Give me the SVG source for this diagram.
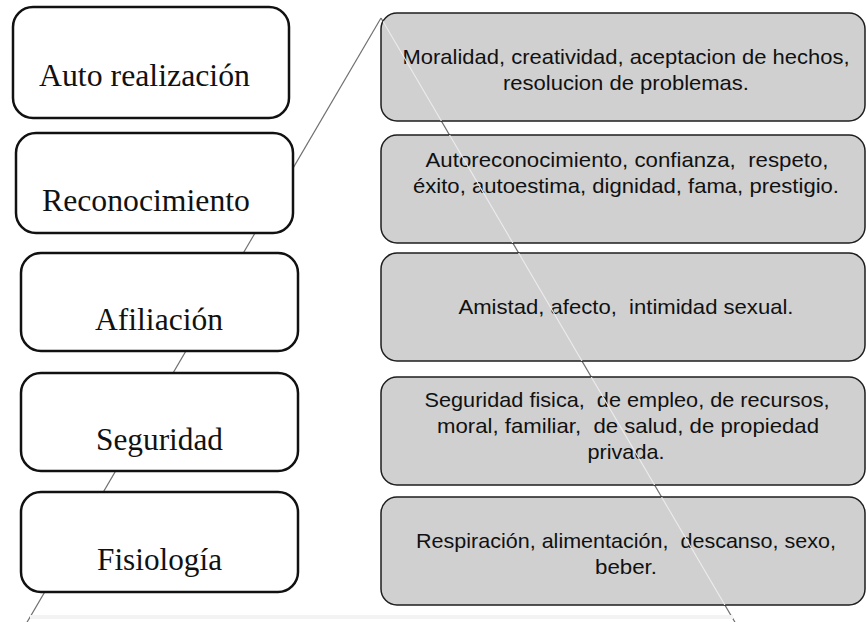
<svg xmlns="http://www.w3.org/2000/svg" width="866" height="622" viewBox="0 0 866 622">
<style>
.lbox{fill:#ffffff;stroke:#111111;stroke-width:2.5}
.rbox{fill:#d0d0d0;stroke:#1e1e1e;stroke-width:1.5}
.ltxt{font-family:"Liberation Serif","Times New Roman",serif;font-size:31px;fill:#111111}
.rtxt{font-family:"Liberation Sans",Arial,sans-serif;font-size:21px;fill:#111111;text-anchor:middle}
.pyr{stroke:#707070;stroke-width:1.2;fill:none}
.pyrlight{stroke:#ececec;stroke-width:1.1;fill:none}
</style>
<defs>
<clipPath id="grayclip">
<rect x="381" y="13" width="484" height="108" rx="16"/>
<rect x="381" y="135" width="484" height="108" rx="16"/>
<rect x="381" y="253" width="484" height="108" rx="16"/>
<rect x="381" y="377" width="484" height="108" rx="16"/>
<rect x="381" y="497" width="484" height="108" rx="16"/>
</clipPath>
</defs>
<rect x="0" y="0" width="866" height="622" fill="#ffffff"/>
<g id="connectors">
<line class="pyr" x1="381" y1="18" x2="26" y2="624"/>
<line class="pyr" x1="381" y1="18" x2="736" y2="624"/>
<line x1="30" y1="617" x2="733" y2="617" stroke="#f3f3f3" stroke-width="4"/>
</g>
<g id="n-autorealizacion"><rect class="lbox" x="13" y="7" width="276" height="111" rx="20"/><text class="ltxt" x="39" y="86" textLength="211" lengthAdjust="spacingAndGlyphs">Auto realización</text></g>
<g id="n-reconocimiento"><rect class="lbox" x="16" y="133" width="277" height="100" rx="20"/><text class="ltxt" x="42" y="211" textLength="208" lengthAdjust="spacingAndGlyphs">Reconocimiento</text></g>
<g id="n-afiliacion"><rect class="lbox" x="21" y="253" width="277" height="98" rx="20"/><text class="ltxt" x="95" y="330" textLength="128" lengthAdjust="spacingAndGlyphs">Afiliación</text></g>
<g id="n-seguridad"><rect class="lbox" x="21" y="373" width="277" height="98" rx="20"/><text class="ltxt" x="96" y="450" textLength="127" lengthAdjust="spacingAndGlyphs">Seguridad</text></g>
<g id="n-fisiologia"><rect class="lbox" x="21" y="492" width="277" height="100" rx="20"/><text class="ltxt" x="97" y="570" textLength="125" lengthAdjust="spacingAndGlyphs">Fisiología</text></g>
<g id="d-autorealizacion"><rect class="rbox" x="381" y="13" width="484" height="108" rx="16"/>
<text class="rtxt" xml:space="preserve" x="626" y="64" textLength="447" lengthAdjust="spacingAndGlyphs">Moralidad, creatividad, aceptacion de hechos,</text>
<text class="rtxt" xml:space="preserve" x="626" y="90" textLength="246" lengthAdjust="spacingAndGlyphs">resolucion de problemas.</text></g>
<g id="d-reconocimiento"><rect class="rbox" x="381" y="135" width="484" height="108" rx="16"/>
<text class="rtxt" xml:space="preserve" x="627" y="167" textLength="403" lengthAdjust="spacingAndGlyphs">Autoreconocimiento, confianza,  respeto,</text>
<text class="rtxt" xml:space="preserve" x="626" y="193" textLength="426" lengthAdjust="spacingAndGlyphs">éxito, autoestima, dignidad, fama, prestigio.</text></g>
<g id="d-afiliacion"><rect class="rbox" x="381" y="253" width="484" height="108" rx="16"/>
<text class="rtxt" xml:space="preserve" x="626" y="314" textLength="335" lengthAdjust="spacingAndGlyphs">Amistad, afecto,  intimidad sexual.</text></g>
<g id="d-seguridad"><rect class="rbox" x="381" y="377" width="484" height="108" rx="16"/>
<text class="rtxt" xml:space="preserve" x="627" y="407" textLength="405" lengthAdjust="spacingAndGlyphs">Seguridad fisica,  de empleo, de recursos,</text>
<text class="rtxt" xml:space="preserve" x="628" y="433" textLength="382" lengthAdjust="spacingAndGlyphs">moral, familiar,  de salud, de propiedad</text>
<text class="rtxt" xml:space="preserve" x="626" y="459" textLength="77" lengthAdjust="spacingAndGlyphs">privada.</text></g>
<g id="d-fisiologia"><rect class="rbox" x="381" y="497" width="484" height="108" rx="16"/>
<text class="rtxt" xml:space="preserve" x="626" y="548" textLength="420" lengthAdjust="spacingAndGlyphs">Respiración, alimentación,  descanso, sexo,</text>
<text class="rtxt" xml:space="preserve" x="626" y="574" textLength="62" lengthAdjust="spacingAndGlyphs">beber.</text></g>
<g id="pyramid-overlay" clip-path="url(#grayclip)">
<line class="pyrlight" x1="381" y1="18" x2="736" y2="624"/>
</g>
</svg>
